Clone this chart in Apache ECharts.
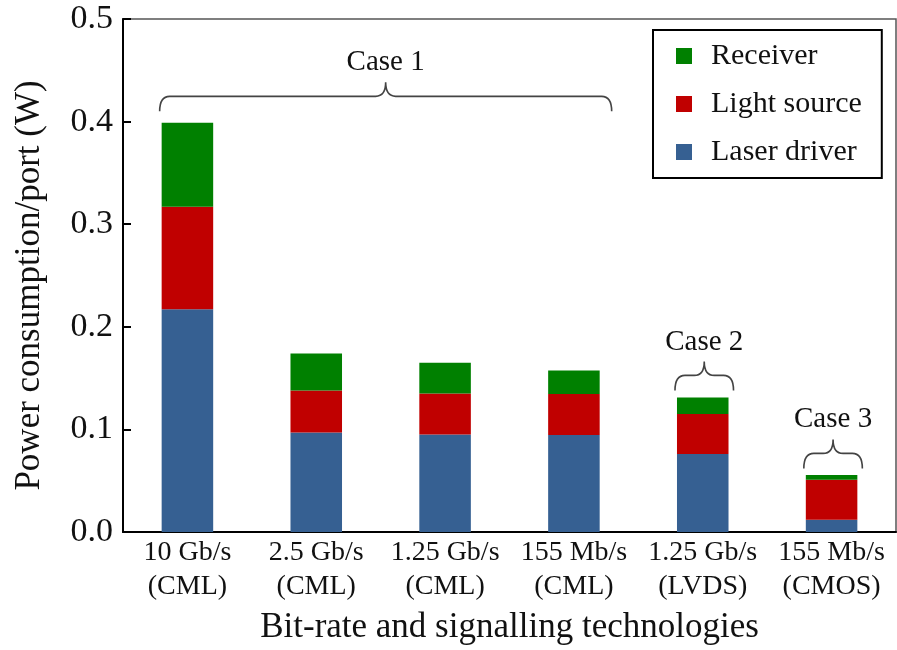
<!DOCTYPE html>
<html>
<head>
<meta charset="utf-8">
<script src="https://cdn.jsdelivr.net/npm/echarts@6/dist/echarts.min.js"></script>
<style>html,body{margin:0;padding:0;background:#fff}#c{width:897px;height:650px}</style>
</head>
<body>
<div id="c"></div>
<script>
// ---- data ----
const categories = ['10 Gb/s\n(CML)', '2.5 Gb/s\n(CML)', '1.25 Gb/s\n(CML)', '155 Mb/s\n(CML)', '1.25 Gb/s\n(LVDS)', '155 Mb/s\n(CMOS)'];
const laserDriver = [0.217, 0.097, 0.095, 0.0945, 0.076, 0.012];
const lightSource = [0.100, 0.041, 0.040, 0.040, 0.039, 0.039];
const receiver    = [0.082, 0.036, 0.030, 0.023, 0.016, 0.0045];
const yTicks = [0, 0.1, 0.2, 0.3, 0.4, 0.5];
// annotation groups: first category, last category, brace level (W), label
const caseStart = [0, 4, 5];
const caseEnd   = [3, 4, 5];
const caseLevel = [0.41, 0.138, 0.062];
const caseLabels = ['Case 1', 'Case 2', 'Case 3'];

const FONT = '"Liberation Serif", "Times New Roman", serif';
const TXT = '#111';

const chart = echarts.init(document.getElementById('c'), null, {renderer: 'canvas'});

function renderBrace(params, api) {
  const i = params.dataIndex;
  const s = api.value(0), e = api.value(1), lvl = api.value(2);
  const p0 = api.coord([s, lvl]);
  const p1 = api.coord([e, lvl]);
  const bw = api.size([1, 0])[0];
  const multi = e > s;
  const x0 = p0[0] - bw * 0.2 - 2;
  const x1 = p1[0] + bw * 0.2 + (multi ? 12 : 5);
  const yb = p0[1];
  const ym = yb - 15;
  const yt = yb - 29;
  const xc = (x0 + x1) / 2;
  const r = 10;
  const path = 'M' + x0 + ',' + yb +
    ' Q' + x0 + ',' + ym + ' ' + (x0 + r) + ',' + ym +
    ' L' + (xc - r) + ',' + ym +
    ' Q' + xc + ',' + ym + ' ' + xc + ',' + yt +
    ' Q' + xc + ',' + ym + ' ' + (xc + r) + ',' + ym +
    ' L' + (x1 - r) + ',' + ym +
    ' Q' + x1 + ',' + ym + ' ' + x1 + ',' + yb;
  return {
    type: 'group',
    children: [
      {type: 'path', shape: {pathData: path}, style: {fill: null, stroke: '#444', lineWidth: 1.6}},
      {type: 'text', x: xc, y: yt - 5, style: {text: caseLabels[i], font: '29px ' + FONT, fill: TXT, align: 'center', verticalAlign: 'bottom'}}
    ]
  };
}

const option = {
  backgroundColor: '#fff',
  animation: false,
  grid: {left: 123, right: 1, top: 19, bottom: 116, show: true, borderColor: '#555', borderWidth: 1.5, backgroundColor: 'transparent'},
  legend: {
    data: ['Receiver', 'Light source', 'Laser driver'],
    orient: 'vertical',
    left: 653, top: 30,
    padding: [11, 20, 11, 23],
    itemGap: 18,
    itemWidth: 16, itemHeight: 16,
    icon: 'rect',
    borderColor: '#000', borderWidth: 2,
    textStyle: {fontFamily: FONT, fontSize: 30, color: TXT, lineHeight: 30, padding: [0, 0, 0, 14]}
  },
  xAxis: {
    type: 'category',
    data: categories,
    name: 'Bit-rate and signalling technologies',
    nameLocation: 'middle',
    nameGap: 78,
    nameTextStyle: {fontFamily: FONT, fontSize: 35, color: TXT},
    axisLine: {lineStyle: {color: '#000', width: 2}},
    axisTick: {inside: true, length: 8, lineStyle: {color: '#000', width: 2}},
    axisLabel: {fontFamily: FONT, fontSize: 28, color: TXT, lineHeight: 34, margin: 4, interval: 0}
  },
  yAxis: {
    type: 'value',
    min: 0, max: 0.5, interval: 0.1,
    name: 'Power consumption/port (W)',
    nameLocation: 'middle',
    nameGap: 76,
    nameTextStyle: {fontFamily: FONT, fontSize: 35, color: TXT, padding: [0, 0, 0, -20]},
    axisLine: {show: true, lineStyle: {color: '#000', width: 2}},
    axisTick: {show: true, inside: true, length: 8, lineStyle: {color: '#000', width: 2}},
    splitLine: {show: false},
    axisLabel: {fontFamily: FONT, fontSize: 34, color: TXT, margin: 10, formatter: v => yTicks.indexOf(+v.toFixed(1)) >= 0 ? v.toFixed(1) : ''}
  },
  series: [
    {name: 'Laser driver', type: 'bar', stack: 'p', data: laserDriver, barWidth: '40%', itemStyle: {color: '#366092'}},
    {name: 'Light source', type: 'bar', stack: 'p', data: lightSource, barWidth: '40%', itemStyle: {color: '#c00000'}},
    {name: 'Receiver', type: 'bar', stack: 'p', data: receiver, barWidth: '40%', itemStyle: {color: '#008000'}},
    {name: 'cases', type: 'custom', renderItem: renderBrace, clip: false, z: 10,
     encode: {x: [0, 1], y: 2},
     data: caseStart.map((s, i) => [s, caseEnd[i], caseLevel[i]])}
  ]
};
chart.setOption(option);
</script>
</body>
</html>
